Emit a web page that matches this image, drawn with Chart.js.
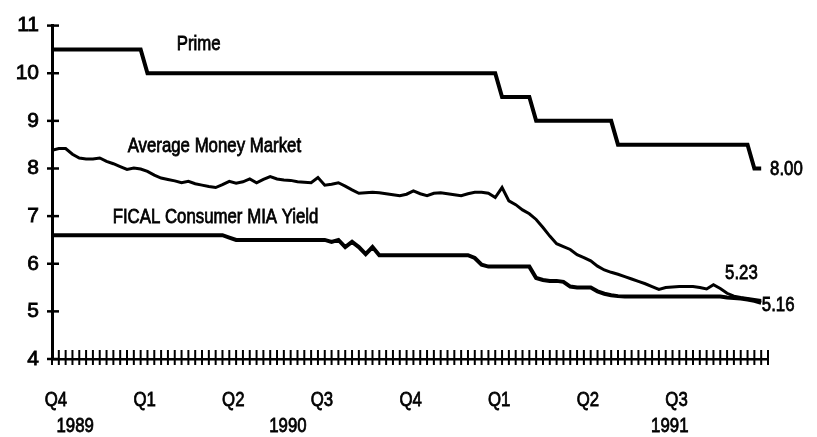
<!DOCTYPE html>
<html>
<head>
<meta charset="utf-8">
<title>Prime, Average Money Market, FICAL Consumer MIA Yield</title>
<script src="https://cdn.jsdelivr.net/npm/chart.js@4.4.1/dist/chart.umd.min.js"></script>
<style>
  html, body { margin: 0; padding: 0; background: #fff; }
  #wrap { width: 817px; height: 437px; }
</style>
</head>
<body>
<div id="wrap"><canvas id="graphique"></canvas></div>
<script>
// weekly rates (%), Q4 1989 -> Q3 1991, one row per quarter
const prime = [
  10.5, 10.5, 10.5, 10.5, 10.5, 10.5, 10.5, 10.5, 10.5, 10.5, 10.5, 10.5, 10.5,
  10.5, 10, 10, 10, 10, 10, 10, 10, 10, 10, 10, 10, 10,
  10, 10, 10, 10, 10, 10, 10, 10, 10, 10, 10, 10, 10,
  10, 10, 10, 10, 10, 10, 10, 10, 10, 10, 10, 10, 10,
  10, 10, 10, 10, 10, 10, 10, 10, 10, 10, 10, 10, 10,
  10, 9.5, 9.5, 9.5, 9.5, 9.5, 9, 9, 9, 9, 9, 9, 9,
  9, 9, 9, 9, 9, 8.5, 8.5, 8.5, 8.5, 8.5, 8.5, 8.5, 8.5,
  8.5, 8.5, 8.5, 8.5, 8.5, 8.5, 8.5, 8.5, 8.5, 8.5, 8.5, 8.5, 8, 8
];
const moneyMarket = [
  8.38, 8.42, 8.42, 8.30, 8.22, 8.20, 8.20, 8.22, 8.15, 8.10, 8.04, 7.98, 8.01,
  7.99, 7.94, 7.86, 7.80, 7.77, 7.74, 7.70, 7.73, 7.68, 7.65, 7.62, 7.60, 7.66,
  7.73, 7.69, 7.72, 7.78, 7.70, 7.77, 7.83, 7.78, 7.76, 7.75, 7.72, 7.71, 7.70,
  7.81, 7.65, 7.67, 7.70, 7.63, 7.55, 7.48, 7.49, 7.50, 7.49, 7.47, 7.45, 7.43,
  7.46, 7.53, 7.47, 7.43, 7.48, 7.49, 7.47, 7.45, 7.43, 7.47, 7.50, 7.50, 7.48,
  7.39, 7.60, 7.32, 7.24, 7.13, 7.05, 6.93, 6.76, 6.58, 6.42, 6.36, 6.30, 6.19,
  6.13, 6.06, 5.95, 5.87, 5.82, 5.78, 5.73, 5.68, 5.63, 5.58, 5.52, 5.46, 5.50,
  5.51, 5.52, 5.52, 5.52, 5.50, 5.47, 5.56, 5.48, 5.38, 5.32, 5.29, 5.27, 5.25, 5.23
];
const fical = [
  6.6, 6.6, 6.6, 6.6, 6.6, 6.6, 6.6, 6.6, 6.6, 6.6, 6.6, 6.6, 6.6,
  6.6, 6.6, 6.6, 6.6, 6.6, 6.6, 6.6, 6.6, 6.6, 6.6, 6.6, 6.6, 6.6,
  6.55, 6.5, 6.5, 6.5, 6.5, 6.5, 6.5, 6.5, 6.5, 6.5, 6.5, 6.5, 6.5,
  6.5, 6.5, 6.46, 6.5, 6.35, 6.46, 6.35, 6.2, 6.35, 6.18, 6.18, 6.18, 6.18,
  6.18, 6.18, 6.18, 6.18, 6.18, 6.18, 6.18, 6.18, 6.18, 6.18, 6.12, 5.98, 5.94,
  5.94, 5.94, 5.94, 5.94, 5.94, 5.94, 5.70, 5.66, 5.64, 5.64, 5.62, 5.52, 5.50,
  5.50, 5.50, 5.42, 5.37, 5.34, 5.32, 5.31, 5.31, 5.31, 5.31, 5.31, 5.31, 5.31,
  5.31, 5.31, 5.31, 5.31, 5.31, 5.31, 5.31, 5.31, 5.29, 5.28, 5.27, 5.25, 5.22, 5.18
];

const quarterWeeks = [0, 13, 26, 39, 52, 65, 78, 91];
const quarterLabels = ['Q4', 'Q1', 'Q2', 'Q3', 'Q4', 'Q1', 'Q2', 'Q3'];
const yearWeeks = [3.4, 34.6, 90.6];
const yearLabels = ['1989', '1990', '1991'];

// texts placed in the plot, anchored in data units (week, rate) at their baseline
const notes = [
  { text: 'Prime', x: 18.3, y: 10.49 },
  { text: 'Average Money Market', x: 11.1, y: 8.34 },
  { text: 'FICAL Consumer MIA Yield', x: 8.9, y: 6.85 },
  { text: '8.00', x: 105.3, y: 7.87 },
  { text: '5.23', x: 98.7, y: 5.68 },
  { text: '5.16', x: 104.1, y: 5.0 }
];

const FAMILY = '"Liberation Sans", Arial, sans-serif';
const NARROW = 0.8;   // condensed look of the printed labels

// draw a condensed text (the original uses a narrow Helvetica)
function narrowText(ctx, text, px, py, align) {
  ctx.save();
  ctx.translate(px, py);
  ctx.scale(NARROW, 1);
  ctx.textAlign = align;
  ctx.fillText(text, 0, 0);
  ctx.strokeText(text, 0, 0);
  ctx.restore();
}

// ticks that cross the axes, quarter/year labels and in-plot texts
const crossTicks = {
  id: 'crossTicks',
  afterDraw(chart) {
    const { ctx, scales: { x, y } } = chart;
    ctx.save();
    ctx.strokeStyle = '#000';
    ctx.fillStyle = '#000';
    ctx.lineWidth = 2;
    x.ticks.forEach(t => {
      const px = x.getPixelForValue(t.value);
      ctx.beginPath();
      ctx.moveTo(px, y.bottom - 9);
      ctx.lineTo(px, y.bottom + 6);
      ctx.stroke();
    });
    ctx.lineWidth = 2.5;
    y.ticks.forEach(t => {
      const py = y.getPixelForValue(t.value);
      ctx.beginPath();
      ctx.moveTo(x.left - 5, py);
      ctx.lineTo(x.left + 7, py);
      ctx.stroke();
    });

    ctx.font = '21px ' + FAMILY;
    ctx.textBaseline = 'alphabetic';
    ctx.lineWidth = 0.8;
    quarterWeeks.forEach((w, i) => {
      narrowText(ctx, quarterLabels[i], x.getPixelForValue(w) + 4, y.bottom + 47, 'center');
    });
    yearWeeks.forEach((w, i) => {
      narrowText(ctx, yearLabels[i], x.getPixelForValue(w), y.bottom + 73, 'center');
    });
    notes.forEach(n => {
      narrowText(ctx, n.text, x.getPixelForValue(n.x), y.getPixelForValue(n.y), 'left');
    });
    ctx.restore();
  }
};

const line = (data, width) => ({
  data: data,
  borderColor: '#000',
  borderWidth: width,
  pointRadius: 0,
  tension: 0,
  fill: false
});

new Chart(document.getElementById('graphique'), {
  type: 'line',
  data: {
    labels: prime.map((_, i) => i),
    datasets: [line(prime, 4), line(moneyMarket, 3), line(fical, 4)]
  },
  options: {
    responsive: true,
    maintainAspectRatio: false,
    animation: false,
    layout: { padding: { left: 0, right: 49, top: 17, bottom: 0 } },
    plugins: { legend: { display: false }, tooltip: { enabled: false } },
    scales: {
      x: {
        type: 'linear', min: 0, max: 105,
        grid: { display: false, drawTicks: false },
        border: { display: true, color: '#000', width: 2.5 },
        ticks: { stepSize: 1, maxTicksLimit: 200, autoSkip: false, display: false },
        afterFit: s => { s.height = 78; }
      },
      y: {
        min: 4, max: 11,
        grid: { display: false, drawTicks: false },
        border: { display: true, color: '#000', width: 3 },
        ticks: {
          stepSize: 1, padding: 13, color: '#000',
          font: { family: FAMILY, size: 21 },
          textStrokeColor: '#000', textStrokeWidth: 0.8
        },
        afterFit: s => { s.width = 52; }
      }
    }
  },
  plugins: [crossTicks]
});
</script>
</body>
</html>
